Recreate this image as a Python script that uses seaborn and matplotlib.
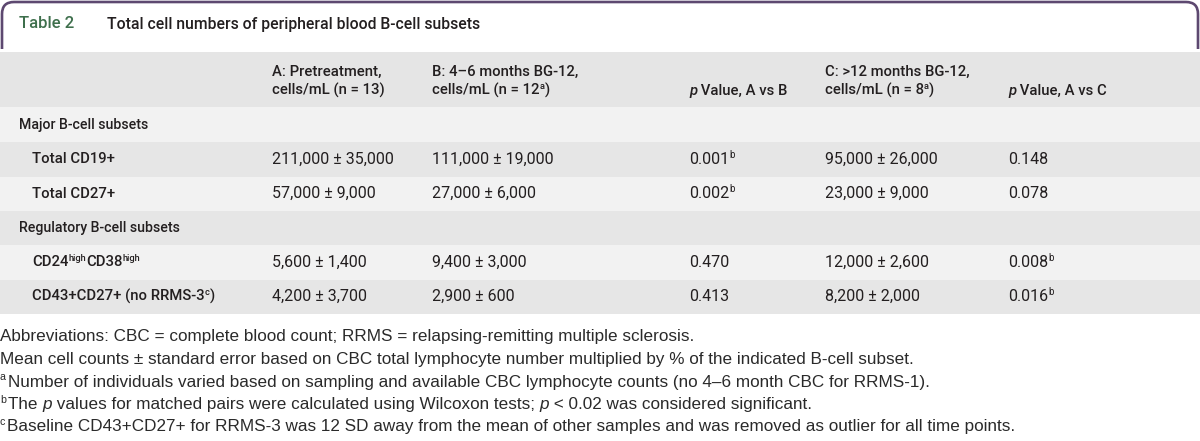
import re
import matplotlib
matplotlib.use('Agg')
import matplotlib.pyplot as plt
import seaborn as sns
from matplotlib.path import Path
from matplotlib.patches import PathPatch

# table content; {^x} = superscript, {/x} = italic
table_no = "Table 2"
title = "Total cell numbers of peripheral blood B-cell subsets"
col_head_1 = ["A: Pretreatment,", "B: 4–6 months BG-12,", "", "C: >12 months BG-12,", ""]
col_head_2 = ["cells/mL (n = 13)", "cells/mL (n = 12{^a})", "{/p} Value, A vs B",
              "cells/mL (n = 8{^a})", "{/p} Value, A vs C"]
groups = ["Major B-cell subsets", "Regulatory B-cell subsets"]
subsets = [["Total CD19+", "Total CD27+"],
           ["CD24{^high}CD38{^high}", "CD43+CD27+ (no RRMS-3{^c})"]]
pretreat = ["211,000 ± 35,000", "57,000 ± 9,000", "5,600 ± 1,400", "4,200 ± 3,700"]
months_4_6 = ["111,000 ± 19,000", "27,000 ± 6,000", "9,400 ± 3,000", "2,900 ± 600"]
p_a_b = ["0.001{^b}", "0.002{^b}", "0.470", "0.413"]
months_12 = ["95,000 ± 26,000", "23,000 ± 9,000", "12,000 ± 2,600", "8,200 ± 2,000"]
p_a_c = ["0.148", "0.078", "0.008{^b}", "0.016{^b}"]
notes = [
    "Abbreviations: CBC = complete blood count; RRMS = relapsing-remitting multiple sclerosis.",
    "Mean cell counts ± standard error based on CBC total lymphocyte number multiplied by % of the indicated B-cell subset.",
    "{^a}Number of individuals varied based on sampling and available CBC lymphocyte counts (no 4–6 month CBC for RRMS-1).",
    "{^b}The {/p} values for matched pairs were calculated using Wilcoxon tests; {/p} < 0.02 was considered significant.",
    "{^c}Baseline CD43+CD27+ for RRMS-3 was 12 SD away from the mean of other samples and was removed as outlier for all time points.",
]

sns.set_theme(style='white')
plt.rcParams['font.family'] = ['Roboto', 'DejaVu Sans']

ink = '#231f20'
fig = plt.figure(figsize=(12, 4.41), dpi=100)
ax = fig.add_axes([0, 0, 1, 1])
ax.set_xlim(0, 1200)
ax.set_ylim(441, 0)
ax.axis('off')
rend = fig.canvas.get_renderer()


def rich(x, y, s, size, weight='normal', color=ink, family=None, supgap=0):
    # draw a string piece by piece, moving right by each piece's width
    for tok in re.split(r'(\{[\^/][^}]*\})', s):
        if not tok:
            continue
        kw = dict(fontsize=size, fontweight=weight, color=color, va='center', ha='left')
        if family:
            kw['family'] = family
        yy = y
        gap = 0
        if tok.startswith('{^'):
            tok = tok[2:-1]
            kw['fontsize'] = size * 0.62
            yy = y - size * 0.38
            gap = supgap
        elif tok.startswith('{/'):
            tok = tok[2:-1]
            kw['fontstyle'] = 'italic'
        t = ax.text(x, yy, tok, **kw)
        x += t.get_window_extent(renderer=rend).width + gap


# title box with rounded top corners
r = 12
verts = [(2, 49), (2, 2 + r), (2, 2), (2 + r, 2), (1198 - r, 2), (1198, 2), (1198, 2 + r), (1198, 49)]
codes = [Path.MOVETO, Path.LINETO, Path.CURVE3, Path.CURVE3, Path.LINETO, Path.CURVE3, Path.CURVE3, Path.LINETO]
ax.add_patch(PathPatch(Path(verts, codes), fill=False, ec='#5d4870', lw=1.9))
rich(19, 24, table_no, 12, weight='medium', color='#3e6f4c')
rich(107, 24, title, 11.3, weight='medium')

# bands
ax.axhspan(52, 107, color='#e5e5e5', lw=0)
edges = [107, 142, 176.5, 211, 245, 279.5, 314]
for i in range(6):
    ax.axhspan(edges[i], edges[i + 1], color='#f2f2f2' if i % 2 == 0 else '#e6e6e6', lw=0)

col_x = [272, 432, 689, 825, 1008]
for cx, h1, h2 in zip(col_x, col_head_1, col_head_2):
    if h1:
        rich(cx, 72, h1, 10.7, weight='medium')
    rich(cx, 90.5, h2, 10.7, weight='medium')

row = 0
for g, subs in zip(groups, subsets):
    yc = (edges[row] + edges[row + 1]) / 2
    rich(19, yc, g, 10.2, weight='medium')
    row += 1
    for lab in subs:
        k = row - 1 - (1 if row > 3 else 0)
        yc = (edges[row] + edges[row + 1]) / 2
        rich(32, yc, lab, 10.7, weight='medium')
        for cx, col in zip(col_x, [pretreat, months_4_6, p_a_b, months_12, p_a_c]):
            rich(cx, yc, col[k], 11.5)
        row += 1

for i, n in enumerate(notes):
    rich(0, 337 + i * 22.5, n, 12.35, color='#2a2a2a', family=['Liberation Sans', 'DejaVu Sans'], supgap=2)

fig.savefig('out.png', dpi=100)
